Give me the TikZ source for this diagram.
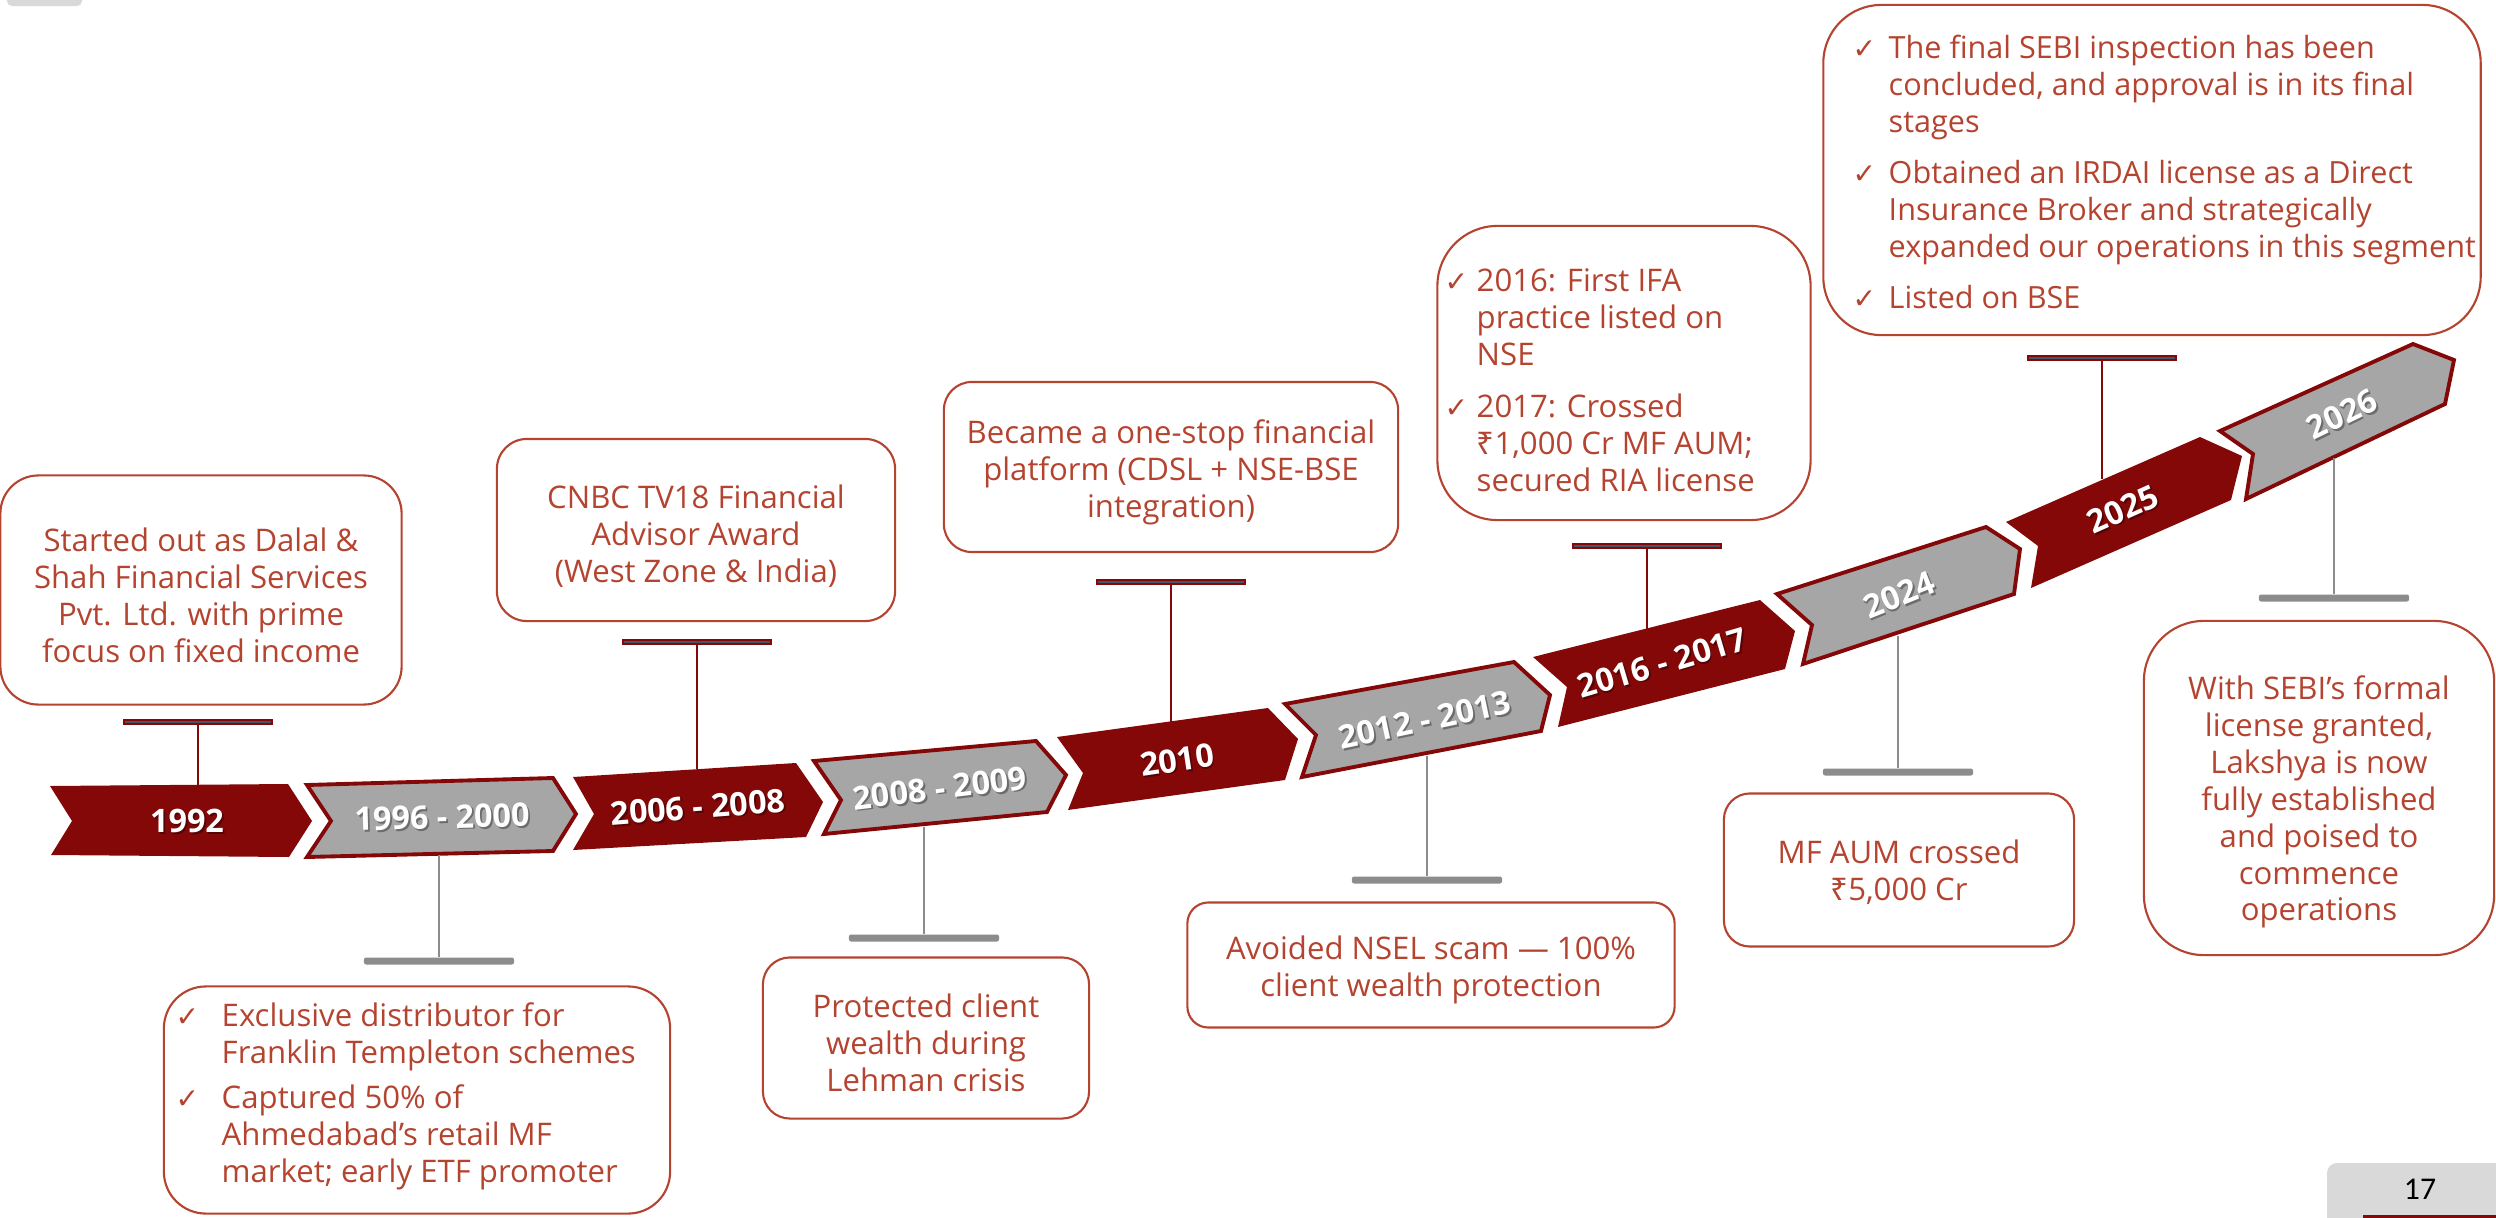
\documentclass[tikz,border=0pt]{standalone}
\usepackage{fontspec}
\setmainfont{Open Sans}
\newfontfamily\tickfont{DejaVu Sans}
\newfontfamily\rupeefont{Noto Sans}
\newfontfamily\pagefont{Carlito}
\usetikzlibrary{positioning}
\definecolor{ribbonred}{HTML}{840808}
\definecolor{ribbongray}{HTML}{A6A6A6}
\definecolor{notered}{HTML}{B4432F}
\definecolor{stemgray}{HTML}{8C8C8C}
\definecolor{barslate}{HTML}{44546A}
\definecolor{pagegray}{HTML}{D9D9D9}

\newcommand{\tick}[1]{\makebox[#1][l]{\tickfont\fontsize{8}{9}\selectfont ✓}}
\newcommand{\rupee}{{\rupeefont ₹}}
% year text with a soft shadow
\newcommand{\yearlabel}[4]{%
  \node[yearshadow, xshift=0.5pt, yshift=-0.5pt, rotate=#3] at (#2) {#4};
  \node[yeartext, rotate=#3] (#1) at (#2) {#4};}

\tikzset{
  notebox/.style={draw=notered, line width=0.6pt, inner sep=0pt},
  notetext/.style={text=notered, align=center, inner sep=0pt,
    font=\fontsize{8.85}{10.5}\selectfont},
  yeartext/.style={text=white, inner sep=0pt, font=\bfseries\fontsize{9.2}{10}\selectfont},
  yearshadow/.style={text=black, text opacity=0.35, inner sep=0pt,
    font=\bfseries\fontsize{9.2}{10}\selectfont},
  redchev/.style={fill=ribbonred},
  graychev/.style={fill=ribbongray, draw=ribbonred, line width=1.1pt},
  topbar/.style={draw=ribbonred, fill=barslate, line width=0.7pt,
    minimum width=1.475cm, minimum height=0.045cm, inner sep=0pt},
  bottombar/.style={fill=stemgray, rounded corners=0.6pt,
    minimum width=1.5cm, minimum height=0.07cm, inner sep=0pt},
  topstem/.style={draw=ribbonred, line width=0.7pt},
  bottomstem/.style={draw=stemgray, line width=0.7pt}
}

\begin{document}
\begin{tikzpicture}[x=0.01cm, y=-0.01cm]
      \useasboundingbox (0,0) rectangle (2496,1218);

      % Corner tabs of the slide
      \fill[pagegray, rounded corners=0.05cm] (7,-20) rectangle (82,6);
      \fill[pagegray, rounded corners=0.1cm] (2327,1163) rectangle (2530,1260);
      \draw[ribbonred, line width=1pt] (2363,1217) -- (2496,1217);
      \node[font=\pagefont\fontsize{9}{10}\selectfont, inner sep=0pt] (pagenum) at (2420,1189) {17};

      % Draw the ribbon of chevrons
      \fill[redchev] (50,786) -- (288,784) -- (312,821) -- (289,857) -- (51,855) -- (72,821) -- cycle;
      \draw[graychev] (307,785) -- (553,778) -- (576,814) -- (553,851) -- (307,857) -- (331,821) -- cycle;
      \fill[redchev] (573,777) -- (796,763) -- (823,802) -- (806,837) -- (573,850) -- (594,814) -- cycle;
      \draw[graychev] (814,761) -- (1036,741) -- (1066,775) -- (1047,812) -- (824,834) -- (841,800) -- cycle;
      \fill[redchev] (1057,737) -- (1268,708) -- (1298,739) -- (1285,780) -- (1068,810) -- (1083,773) -- cycle;
      \draw[graychev] (1285,704) -- (1514,662) -- (1550,695) -- (1541,731) -- (1302,777) -- (1316,735) -- cycle;
      \fill[redchev] (1533,657) -- (1760,600) -- (1795,631) -- (1785,669) -- (1558,727) -- (1567,687) -- cycle;
      \draw[graychev] (1777,594) -- (1986,527) -- (2020,549) -- (2014,594) -- (1803,664) -- (1812,625) -- cycle;
      \fill[redchev] (2006,522) -- (2200,437) -- (2242,456) -- (2231,500) -- (2031,588) -- (2038,546) -- cycle;
      \draw[graychev] (2220,431) -- (2413,344) -- (2454,360) -- (2445,404) -- (2246,499) -- (2253,454) -- cycle;

      % Year labels
      \yearlabel{y1992}{187,821}{0}{1992}
      \yearlabel{y1996}{442,817}{1.5}{1996 - 2000}
      \yearlabel{y2006}{698,807}{4.5}{2006 - 2008}
      \yearlabel{y2008}{940,788}{7}{2008 - 2009}
      \yearlabel{y2010}{1177,760}{8.5}{2010}
      \yearlabel{y2012}{1425,720}{12}{2012 - 2013}
      \yearlabel{y2016}{1662,663}{16.5}{2016 - 2017}
      \yearlabel{y2024}{1899,595}{22}{2024}
      \yearlabel{y2025}{2123,509}{24}{2025}
      \yearlabel{y2026}{2342,414}{26}{2026}

      % Points where the stems meet the ribbon
      \coordinate (top1992) at (198,786);
      \coordinate (top2006) at (697,769);
      \coordinate (top2010) at (1171,723);
      \coordinate (top2016) at (1647,630);
      \coordinate (top2025) at (2102,479);
      \coordinate (bot1996) at (439,855);
      \coordinate (bot2008) at (924,827);
      \coordinate (bot2012) at (1427,756);
      \coordinate (bot2024) at (1898,636);
      \coordinate (bot2026) at (2334,458);

      % Bars above the ribbon
      \node[topbar] (bar1992) at (198,722) {};
      \node[topbar] (bar2006) at (697,642) {};
      \node[topbar] (bar2010) at (1171,582) {};
      \node[topbar] (bar2016) at (1647,546) {};
      \node[topbar] (bar2025) at (2102,358) {};

      % Bars below the ribbon
      \node[bottombar] (bar1996) at (439,961) {};
      \node[bottombar] (bar2008) at (924,938) {};
      \node[bottombar] (bar2012) at (1427,880) {};
      \node[bottombar] (bar2024) at (1898,772) {};
      \node[bottombar] (bar2026) at (2334,598) {};

      % Stems
      \draw[topstem] (bar1992.south) -- (top1992);
      \draw[topstem] (bar2006.south) -- (top2006);
      \draw[topstem] (bar2010.south) -- (top2010);
      \draw[topstem] (bar2016.south) -- (top2016);
      \draw[topstem] (bar2025.south) -- (top2025);
      \draw[bottomstem] (bot1996) -- (bar1996.north);
      \draw[bottomstem] (bot2008) -- (bar2008.north);
      \draw[bottomstem] (bot2012) -- (bar2012.north);
      \draw[bottomstem] (bot2024) -- (bar2024.north);
      \draw[bottomstem] (bot2026) -- (bar2026.north);

      % Note boxes above the ribbon
      \node[notebox, minimum width=4.01cm, minimum height=2.29cm, rounded corners=0.38cm] (note1992) at (201,590) {};
      \node[notebox, minimum width=3.98cm, minimum height=1.82cm, rounded corners=0.3cm] (note2006) at (696,530) {};
      \node[notebox, minimum width=4.54cm, minimum height=1.7cm, rounded corners=0.28cm] (note2010) at (1171,467) {};
      \node[notebox, minimum width=3.73cm, minimum height=2.94cm, rounded corners=0.6cm] (note2016) at (1624,373) {};
      \node[notebox, minimum width=6.57cm, minimum height=3.3cm, rounded corners=0.58cm] (note2025) at (2152,170) {};

      % Note boxes below the ribbon
      \node[notebox, minimum width=5.06cm, minimum height=2.27cm, rounded corners=0.42cm] (note1996) at (417,1100) {};
      \node[notebox, minimum width=3.26cm, minimum height=1.61cm, rounded corners=0.27cm] (note2008) at (926,1038) {};
      \node[notebox, minimum width=4.87cm, minimum height=1.25cm, rounded corners=0.21cm] (note2012) at (1431,965) {};
      \node[notebox, minimum width=3.5cm, minimum height=1.53cm, rounded corners=0.26cm] (note2024) at (1899,870) {};
      \node[notebox, minimum width=3.5cm, minimum height=3.34cm, rounded corners=0.6cm] (note2026) at (2319,788) {};

      % Texts of the notes
      \node[notetext] (text1992) at (201,595) {Started out as Dalal \&\\Shah Financial Services\\Pvt. Ltd. with prime\\focus on fixed income};
      \node[notetext] (text2006) at (696,536) {CNBC TV18 Financial\\Advisor Award\\(West Zone \& India)};
      \node[notetext] (text2010) at (1171,472) {Became a one-stop financial\\platform (CDSL + NSE-BSE\\integration)};
      \node[notetext, anchor=west] (text2016) at (1444,384) {\begin{tabular}{@{}l@{}l@{}}
          \tick{0.32cm} & 2016: First IFA\\
          & practice listed on\\
          & NSE\\[0.15cm]
          \tick{0.32cm} & 2017: Crossed\\
          & \rupee1,000 Cr MF AUM;\\
          & secured RIA license
        \end{tabular}};
      \node[notetext, anchor=west, font=\fontsize{8.7}{10.5}\selectfont] (text2025) at (1852,176) {\begin{tabular}{@{}l@{}l@{}}
          \tick{0.36cm} & The final SEBI inspection has been\\
          & concluded, and approval is in its final\\
          & stages\\[0.14cm]
          \tick{0.36cm} & Obtained an IRDAI license as a Direct\\
          & Insurance Broker and strategically\\
          & expanded our operations in this segment\\[0.14cm]
          \tick{0.36cm} & Listed on BSE
        \end{tabular}};
      \node[notetext, anchor=west] (text1996) at (175,1097) {\begin{tabular}{@{}l@{}l@{}}
          \tick{0.46cm} & Exclusive distributor for\\
          & Franklin Templeton schemes\\[0.08cm]
          \tick{0.46cm} & Captured 50\% of\\
          & Ahmedabad’s retail MF\\
          & market; early ETF promoter
        \end{tabular}};
      \node[notetext] (text2008) at (926,1043) {Protected client\\wealth during\\Lehman crisis};
      \node[notetext] (text2012) at (1431,970) {Avoided NSEL scam — 100\%\\client wealth protection};
      \node[notetext] (text2024) at (1899,872) {MF AUM crossed\\\rupee5,000 Cr};
      \node[notetext] (text2026) at (2319,802) {With SEBI’s formal\\license granted,\\Lakshya is now\\fully established\\and poised to\\commence\\operations};
    \end{tikzpicture}
\end{document}
